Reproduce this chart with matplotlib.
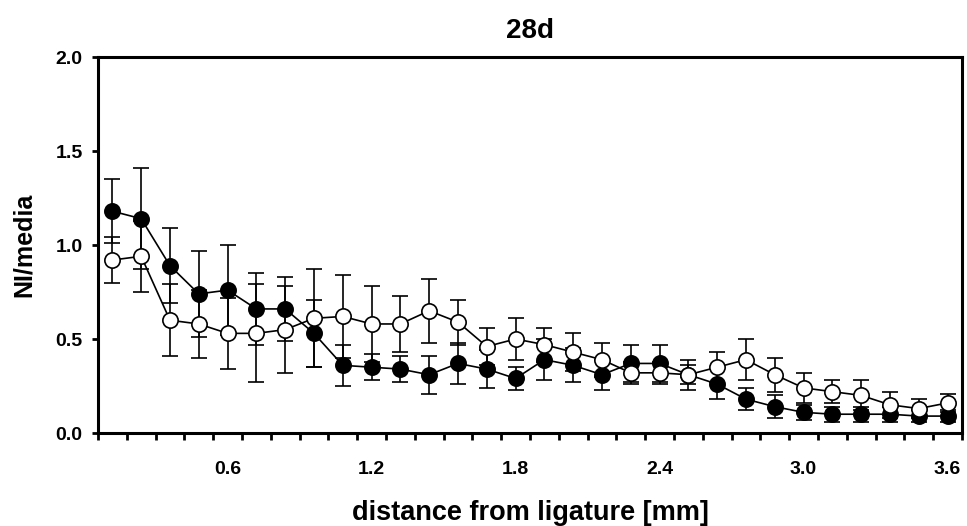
import numpy as np
import matplotlib
matplotlib.use("Agg")
import matplotlib.pyplot as plt

plt.rcParams['font.family'] = ['Liberation Sans', 'DejaVu Sans']
plt.rcParams['font.weight'] = 'bold'

# distance from ligature [mm], bins of 0.12 mm
dist = [0.12, 0.24, 0.36, 0.48, 0.60, 0.72, 0.84, 0.96, 1.08, 1.20,
        1.32, 1.44, 1.56, 1.68, 1.80, 1.92, 2.04, 2.16, 2.28, 2.40,
        2.52, 2.64, 2.76, 2.88, 3.00, 3.12, 3.24, 3.36, 3.48, 3.60]

# filled circles
filled = [1.18, 1.14, 0.89, 0.74, 0.76, 0.66, 0.66, 0.53, 0.36, 0.35,
          0.34, 0.31, 0.37, 0.34, 0.29, 0.39, 0.36, 0.31, 0.37, 0.37,
          0.31, 0.26, 0.18, 0.14, 0.11, 0.10, 0.10, 0.10, 0.09, 0.09]
filled_err = [0.17, 0.27, 0.20, 0.23, 0.24, 0.19, 0.17, 0.18, 0.11, 0.07,
              0.07, 0.10, 0.11, 0.10, 0.06, 0.11, 0.09, 0.08, 0.10, 0.10,
              0.05, 0.08, 0.06, 0.06, 0.04, 0.04, 0.04, 0.04, 0.03, 0.03]

# open circles
open_ = [0.92, 0.94, 0.60, 0.58, 0.53, 0.53, 0.55, 0.61, 0.62, 0.58,
         0.58, 0.65, 0.59, 0.46, 0.50, 0.47, 0.43, 0.39, 0.32, 0.32,
         0.31, 0.35, 0.39, 0.31, 0.24, 0.22, 0.20, 0.15, 0.13, 0.16]
open_err = [0.12, 0.19, 0.19, 0.18, 0.19, 0.26, 0.23, 0.26, 0.22, 0.20,
            0.15, 0.17, 0.12, 0.10, 0.11, 0.09, 0.10, 0.09, 0.06, 0.06,
            0.08, 0.08, 0.11, 0.09, 0.08, 0.06, 0.08, 0.07, 0.05, 0.05]

xlabels = ['0.6', '1.2', '1.8', '2.4', '3.0', '3.6']

fig = plt.figure(figsize=(9.67, 5.26), dpi=100)
ax = fig.add_axes([0.1013, 0.1768, 0.8935, 0.7148])

ax.errorbar(dist, filled, yerr=filled_err, fmt='-o', color='black',
            mfc='black', mec='black', ms=11, mew=1.2, lw=1.2,
            elinewidth=1.2, capsize=5.5, capthick=1.2, zorder=3)
ax.errorbar(dist, open_, yerr=open_err, fmt='-o', color='black',
            mfc='white', mec='black', ms=11, mew=1.2, lw=1.2,
            elinewidth=1.2, capsize=5.5, capthick=1.2, zorder=4)

ax.set_xlim(0.06, 3.66)
ax.set_ylim(0, 2.0)

ax.set_xticks([float(s) for s in xlabels])
ax.set_xticklabels(xlabels)
ax.set_xticks(np.arange(0.06, 3.67, 0.12), minor=True)
ax.tick_params(axis='x', which='major', length=0, pad=20, labelsize=14)
ax.tick_params(axis='x', which='minor', length=5, width=2, direction='out')
ax.set_yticks([0, 0.5, 1.0, 1.5, 2.0])
ax.set_yticklabels(['0.0', '0.5', '1.0', '1.5', '2.0'])
ax.tick_params(axis='y', length=4, width=2, direction='out', labelsize=14, pad=7)

for s in ax.spines.values():
    s.set_linewidth(2.2)

ax.set_title('28d', fontsize=20, fontweight='bold', pad=14)
ax.set_xlabel('distance from ligature [mm]', fontsize=19.5, fontweight='bold', labelpad=16)
ax.set_ylabel('NI/media', fontsize=18, fontweight='bold', labelpad=14)

fig.savefig('out.png', dpi=100)
